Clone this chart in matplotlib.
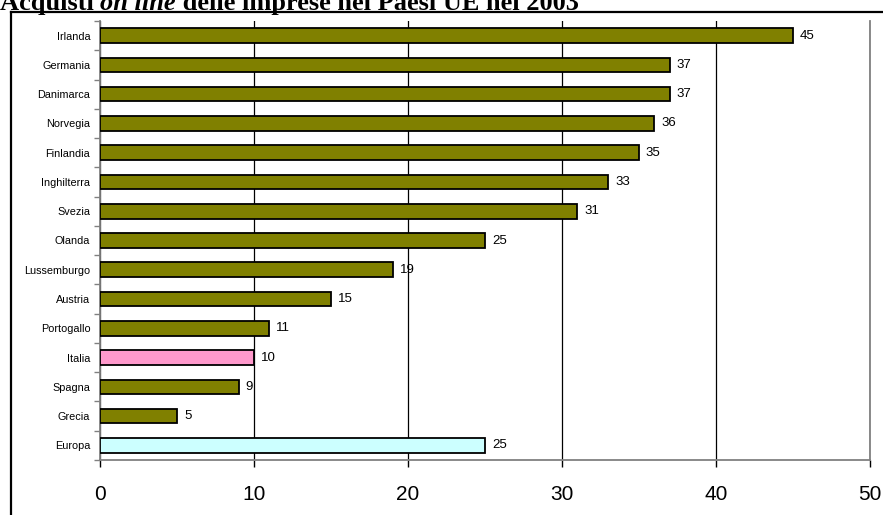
import matplotlib
matplotlib.use("Agg")
import matplotlib.pyplot as plt
from matplotlib.lines import Line2D
import numpy as np

# Acquisti on line delle imprese, valori percentuali 2003
paesi = ["Irlanda", "Germania", "Danimarca", "Norvegia", "Finlandia",
         "Inghilterra", "Svezia", "Olanda", "Lussemburgo", "Austria",
         "Portogallo", "Italia", "Spagna", "Grecia", "Europa"]
valori = [45, 37, 37, 36, 35, 33, 31, 25, 19, 15, 11, 10, 9, 5, 25]
colori = ["#808000"] * 11 + ["#FF99CC"] + ["#808000"] * 2 + ["#CCFFFF"]
xticks = [0, 10, 20, 30, 40, 50]

W, H = 883, 515
fig = plt.figure(figsize=(W / 100, H / 100), dpi=100)
ax = fig.add_axes([100 / W, 1 - 460 / H, 770 / W, 439 / H])

y = np.arange(len(paesi))
ax.barh(y, valori, height=0.5, color=colori, edgecolor="black",
        linewidth=1.3, zorder=3)
for yi, v in zip(y, valori):
    ax.text(v + 0.45, yi, str(v), va="center", ha="left",
            fontsize=9.5, family="Liberation Sans", zorder=4)

ax.set_xlim(0, 50)
ax.set_ylim(len(paesi) - 0.5, -0.5)
ax.set_xticks(xticks)
ax.set_xticklabels([str(t) for t in xticks], fontsize=15,
                   family="Liberation Sans")
ax.set_yticks(y)
ax.set_yticklabels(paesi, fontsize=7.8, family="Liberation Sans")
ax.set_yticks(np.arange(len(paesi) + 1) - 0.5, minor=True)

ax.tick_params(axis="y", which="major", length=0, pad=7)
ax.tick_params(axis="y", which="minor", length=4, width=1, color="#808080",
               direction="out")
ax.tick_params(axis="x", length=5, width=1, color="black", pad=13)

ax.grid(axis="x", color="black", linewidth=0.9, zorder=0)
ax.set_axisbelow(True)
for s in ["left", "bottom", "right"]:
    ax.spines[s].set_color("#808080")
    ax.spines[s].set_linewidth(1.3)
ax.spines["top"].set_visible(False)

# cornice esterna
fig.add_artist(Line2D([11 / W, 1.0], [1 - 11.5 / H, 1 - 11.5 / H],
                      transform=fig.transFigure, color="black", linewidth=1.6))
fig.add_artist(Line2D([11 / W, 11 / W], [0, 1 - 11.5 / H],
                      transform=fig.transFigure, color="black", linewidth=1.6))

# titolo con parte in corsivo
pezzi = [("Acquisti ", "normal"), ("on line", "italic"),
         (" delle imprese nei Paesi UE nel 2003", "normal")]
fig.canvas.draw()
r = fig.canvas.get_renderer()
xpos = 0.0
for testo, stile in pezzi:
    t = fig.text(xpos, 1 - 10 / H, testo, fontsize=19, fontweight="bold",
                 style=stile, family="Liberation Serif", va="baseline",
                 ha="left")
    bb = t.get_window_extent(renderer=r)
    xpos += bb.width / W

fig.savefig("out.png", dpi=100)
